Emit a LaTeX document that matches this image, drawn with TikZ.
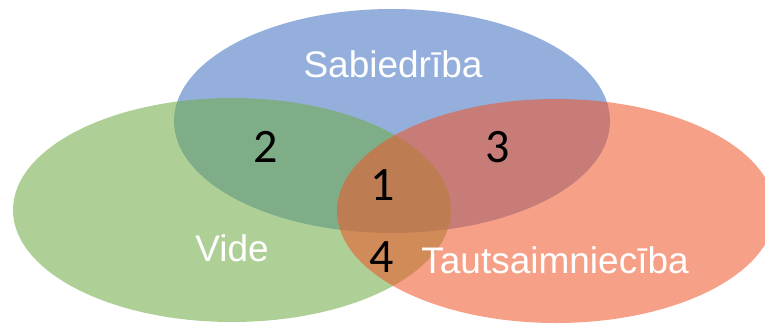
\documentclass[tikz,border=0pt]{standalone}
\usepackage{fontspec}
\setmainfont{Liberation Sans}
\newfontfamily\numfont{Carlito}
\usetikzlibrary{positioning}
\definecolor{blu}{HTML}{4472C4}
\definecolor{grn}{HTML}{70AD47}
\definecolor{org}{HTML}{EE582C}

\begin{document}
\begin{tikzpicture}[x=1pt,y=-1pt,
  circ/.style={fill opacity=0.57},
  lbl/.style={anchor=base,text=white,inner sep=0pt,font=\fontsize{37}{40}\selectfont},
  num/.style={anchor=base,text=black,inner sep=0pt,font=\numfont\fontsize{48}{50}\selectfont}]
  \useasboundingbox (0,0) rectangle (765,324);

  % Three sets
  \fill[circ,blu] (392,121) ellipse [x radius=218pt, y radius=112pt];
  \fill[circ,grn] (232,210) ellipse [x radius=219pt, y radius=112pt];
  \fill[circ,org] (556,211) ellipse [x radius=219pt, y radius=112pt];

  % Set names
  \node[lbl] (sab) at (393,77) {Sabiedrība};
  \node[lbl] (vid) at (232,261) {Vide};
  \node[lbl] (tau) at (555,273) {Tautsaimniecība};

  % Overlap numbers
  \node[num] (n1) at (383,200) {1};
  \node[num] (n2) at (266,162) {2};
  \node[num] (n3) at (498,162) {3};
  \node[num] (n4) at (382,272) {4};
\end{tikzpicture}
\end{document}
